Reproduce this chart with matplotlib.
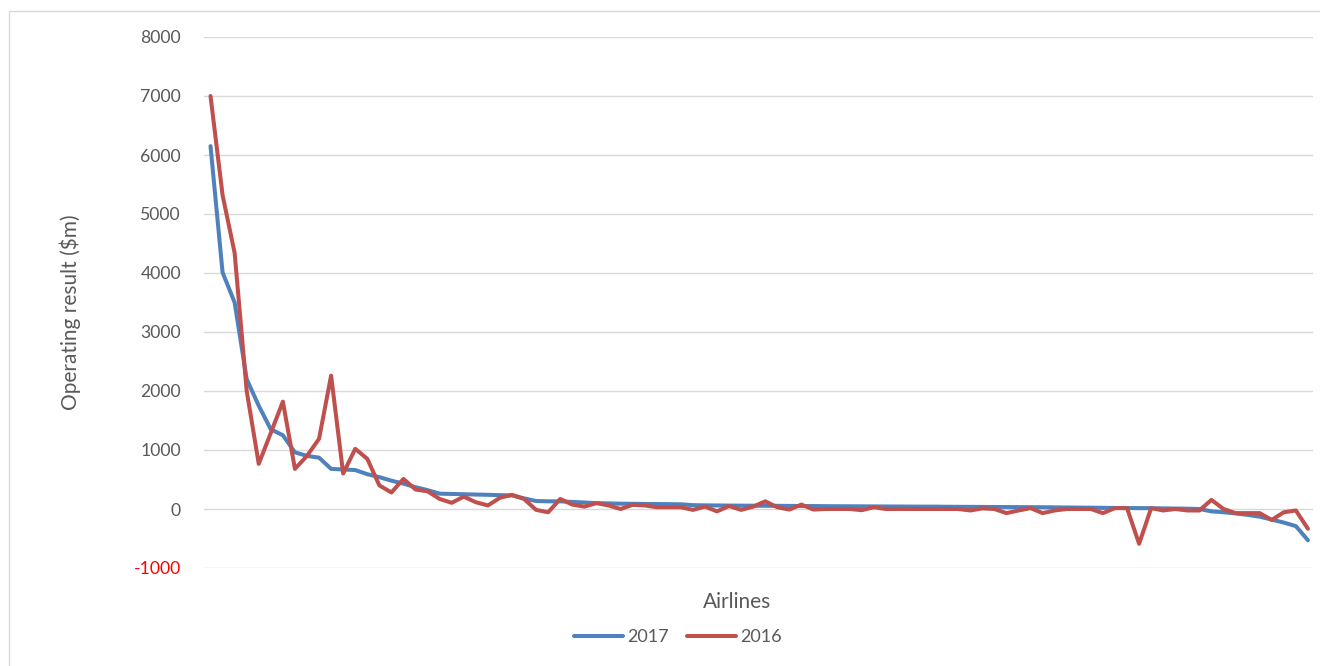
import matplotlib
matplotlib.use("Agg")
import matplotlib.pyplot as plt
from matplotlib.patches import Rectangle
import numpy as np

# Operating result ($m) per airline, ordered by the 2017 result
result_2017 = [6150, 4010, 3500, 2200, 1750, 1350, 1250, 960, 900, 870,
               680, 670, 660, 590, 540, 480, 430, 370, 320, 260,
               255, 250, 245, 240, 235, 230, 180, 135, 130, 130,
               120, 110, 100, 95, 90, 88, 86, 84, 82, 80,
               65, 62, 60, 58, 57, 56, 55, 54, 52, 50,
               50, 48, 47, 46, 45, 44, 43, 42, 41, 40,
               40, 38, 37, 36, 35, 34, 33, 32, 31, 30,
               28, 26, 24, 22, 20, 18, 16, 15, 14, 10,
               8, 5, 0, -40, -55, -75, -100, -130, -180, -230,
               -290, -530]

result_2016 = [7000, 5320, 4340, 2000, 765, 1290, 1820, 680, 900, 1190,
               2260, 600, 1020, 850, 400, 280, 510, 330, 300, 170,
               105, 210, 115, 60, 190, 240, 170, -15, -55, 170,
               75, 40, 100, 60, 0, 70, 60, 30, 30, 30,
               -15, 40, -40, 50, -15, 40, 130, 30, -10, 75,
               -10, 0, 0, 0, -20, 30, 0, 0, 0, 0,
               0, 0, 0, -25, 10, 0, -70, -25, 15, -70,
               -25, 0, 0, 0, -70, 15, 15, -590, 15, -25,
               0, -25, -25, 155, 0, -70, -70, -70, -185, -55,
               -25, -335]

series_names = ["2017", "2016"]
y_ticks = [-1000, 0, 1000, 2000, 3000, 4000, 5000, 6000, 7000, 8000]

W, H = 1320, 666
fig = plt.figure(figsize=(W / 100, H / 100), dpi=100)
plt.rcParams["font.family"] = ["Lato", "DejaVu Sans"]

# outer chart frame
fig.add_artist(Rectangle((9 / W, -0.1), 1.2, 1 - 11 / H + 0.1,
                         transform=fig.transFigure, fill=False,
                         edgecolor="#d9d9d9", linewidth=1.0))

ax = fig.add_axes([204 / W, 1 - 568 / H, (1313 - 204) / W, (568 - 37) / H])

x = np.arange(len(result_2017))
ax.plot(x, result_2017, color="#4f81bd", linewidth=2.9, label=series_names[0],
        solid_joinstyle="round", solid_capstyle="round", zorder=3)
ax.plot(x, result_2016, color="#c0504d", linewidth=2.9, label=series_names[1],
        solid_joinstyle="round", solid_capstyle="round", zorder=4)

ax.set_xlim(-0.54, len(x) - 1 + 0.42)
ax.set_ylim(-1000, 8000)
ax.set_yticks(y_ticks)
ax.set_yticklabels([str(v) for v in y_ticks])
ax.set_xticks([])
ax.grid(axis="y", color="#d9d9d9", linewidth=1.0)
ax.set_axisbelow(True)
for s in ax.spines.values():
    s.set_visible(False)
ax.tick_params(axis="y", length=0, pad=16.5, labelsize=12.7, labelcolor="#595959")
for lab in ax.get_yticklabels():
    if lab.get_text().startswith("-"):
        lab.set_color("#ff0000")

fig.text(70 / W, 1 - 312 / H, "Operating result ($m)", rotation=90,
         ha="center", va="center", fontsize=15, color="#595959")
fig.text(737 / W, 1 - 602 / H, "Airlines", ha="center", va="center",
         fontsize=15, color="#595959")

leg = fig.legend(loc="center", bbox_to_anchor=(678 / W, 1 - 637 / H), ncol=2,
                 frameon=False, fontsize=13, handlelength=2.7,
                 columnspacing=1.0, handletextpad=0.25)
for t in leg.get_texts():
    t.set_color("#595959")

fig.savefig("out.png", dpi=100, facecolor="white")
